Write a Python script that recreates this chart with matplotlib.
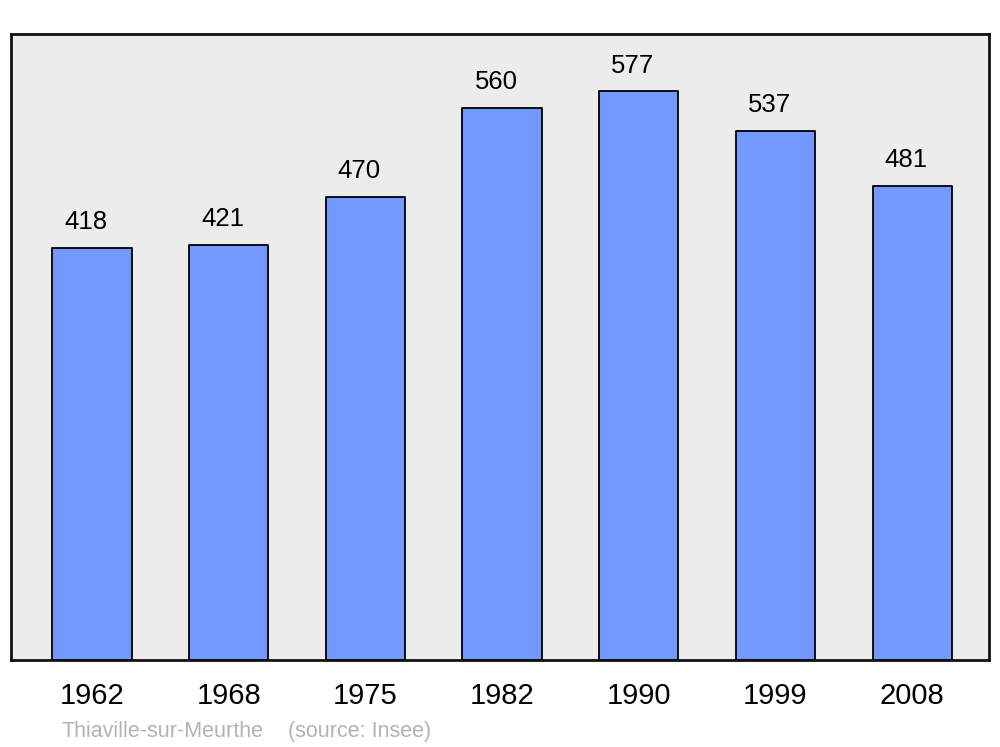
import numpy as np
import matplotlib
matplotlib.use("Agg")
import matplotlib.pyplot as plt

years = ["1962", "1968", "1975", "1982", "1990", "1999", "2008"]
population = [418, 421, 470, 560, 577, 537, 481]
place = "Thiaville-sur-Meurthe"
source = "(source: Insee)"

plt.rcParams["font.family"] = ["Liberation Sans", "DejaVu Sans"]

W, H = 1000, 747
fig = plt.figure(figsize=(W / 100, H / 100), dpi=100)
ax = fig.add_axes([11 / W, (H - 660) / H, 978 / W, 626 / H])
ax.set_facecolor("#ececec")

x = np.arange(len(years))
ax.bar(x, population, width=0.58, color="#7399ff", edgecolor="black",
       linewidth=1.3, joinstyle="round", zorder=2)
for xi, v in zip(x, population):
    ax.text(xi - 0.045, v + 26, str(v), ha="center", va="center", fontsize=18.5)

ax.set_xlim(-0.593, 6.562)
ax.set_ylim(0, 635)
ax.set_yticks([])
ax.set_xticks(x)
ax.set_xticklabels(years, fontsize=21)
ax.tick_params(axis="x", length=0, pad=16)
for s in ax.spines.values():
    s.set_linewidth(2)
    s.set_color("#111111")

fig.text(62 / W, 1 - 737 / H, place, color="#b3b3b3", fontsize=15.5, va="baseline")
fig.text(288 / W, 1 - 737 / H, source, color="#b3b3b3", fontsize=15.5, va="baseline")

fig.savefig("out.png", dpi=100)
